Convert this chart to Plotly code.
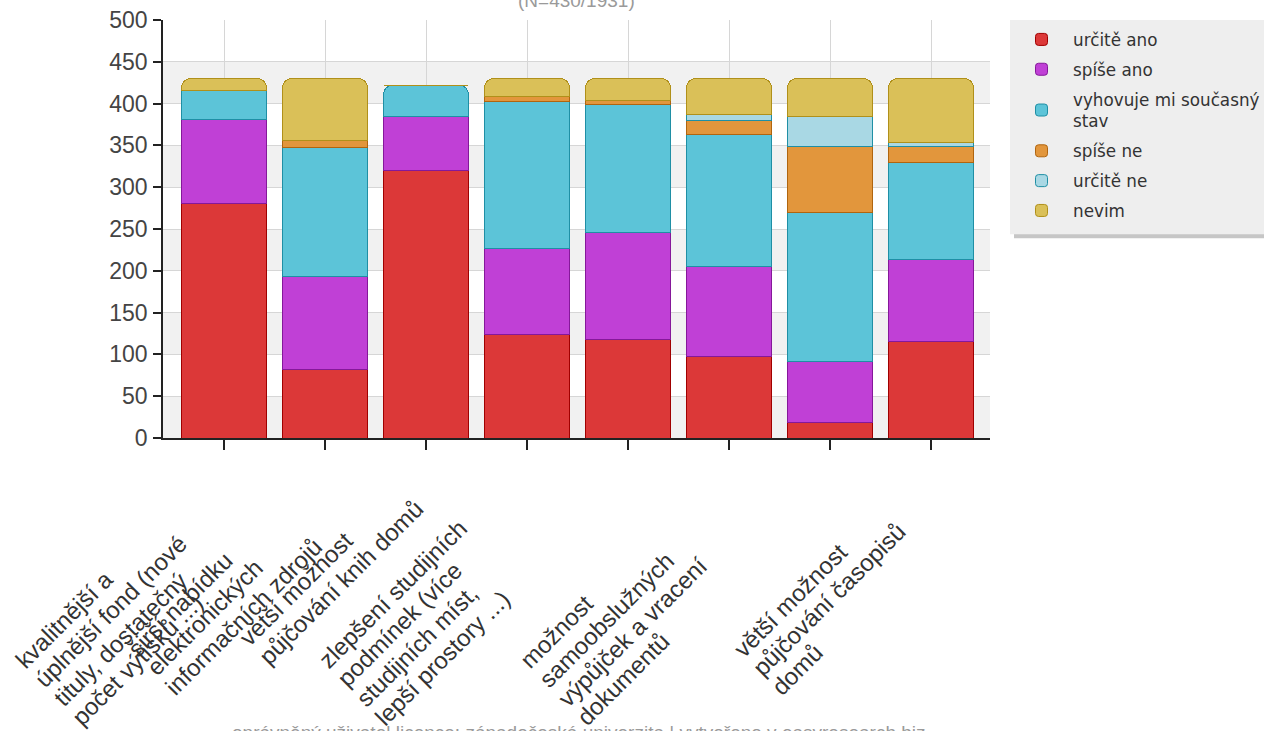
import math
import plotly.graph_objects as go

# ---------------- data ----------------
tick_lines = [
    ["kvalitnější a", "úplnější fond (nové", "tituly, dostatečný", "počet výtisků ...)"],
    ["širší nabídku", "elektronických", "informačních zdrojů"],
    ["větší možnost", "půjčování knih domů"],
    ["zlepšení studijních", "podmínek (více", "studijních míst,", "lepší prostory ...)"],
    [],
    ["možnost", "samoobslužných", "výpůjček a vracení", "dokumentů"],
    [],
    ["větší možnost", "půjčování časopisů", "domů"],
]
positions = list(range(len(tick_lines)))

series_names = ["určitě ano", "spíše ano", "vyhovuje mi současný<br>stav",
                "spíše ne", "určitě ne", "nevim"]
urcite_ano = [280, 82, 320, 124, 118, 97, 18, 116]
spise_ano = [101, 111, 65, 103, 128, 108, 74, 98]
vyhovuje = [35, 154, 37, 176, 153, 158, 178, 116]
spise_ne = [0, 9, 0, 5, 5, 17, 79, 19]
urcite_ne = [0, 0, 0, 0, 0, 7, 35, 4]
nevim = [14, 74, 0, 22, 26, 43, 46, 77]
series_values = [urcite_ano, spise_ano, vyhovuje, spise_ne, urcite_ne, nevim]

title_text = "(N=430/1931)"
footer_text = "oprávněný uživatel licence: západočeská univerzita | vytvořeno v easyresearch.biz"
y_ticks = [0, 50, 100, 150, 200, 250, 300, 350, 400, 450, 500]

# ---------------- style ----------------
fills = ["#dc3838", "#c040d6", "#5cc4d8", "#e2963c", "#a9d8e4", "#dac058"]
edges = ["#a00000", "#85189a", "#1f8fa5", "#b0650f", "#1f8fa5", "#b0901a"]

W, H = 1264, 731
L, R, T, B = 163, 990, 20, 437.7
xr = [-0.604, 7.584]

fig = go.Figure()
for name, vals, fc, ec in zip(series_names, series_values, fills, edges):
    fig.add_trace(go.Bar(
        x=positions, y=vals, name=name, legendgroup=name,
        marker=dict(color=fc, line=dict(color=ec, width=1)),
    ))

# alternating plot bands
shapes = []
for k in range(0, len(y_ticks) - 1, 2):
    shapes.append(dict(type="rect", xref="paper", yref="y", x0=0, x1=1,
                       y0=y_ticks[k], y1=y_ticks[k + 1], fillcolor="#f1f1f1",
                       line=dict(width=0), layer="below"))

def px_x(p):
    return (p - L) / (R - L)

def px_y(p):
    return (B - p) / (B - T)

# legend box + shadow
shapes.append(dict(type="rect", xref="paper", yref="paper",
                   x0=px_x(1014), x1=px_x(1275), y0=px_y(238), y1=px_y(26),
                   fillcolor="#c6c6c6", line=dict(width=0), layer="above"))
shapes.append(dict(type="rect", xref="paper", yref="paper",
                   x0=px_x(1010), x1=px_x(1275), y0=px_y(234), y1=px_y(20),
                   fillcolor="#eeeeee", line=dict(width=0), layer="above"))

annotations = []
annotations.append(dict(text=title_text, xref="paper", yref="paper", x=0.5, y=px_y(1),
                        xanchor="center", yanchor="middle", showarrow=False,
                        font=dict(family="Liberation Sans", size=19, color="#9a9a9a")))
annotations.append(dict(text=footer_text, xref="paper", yref="paper", x=px_x(579), y=px_y(732),
                        xanchor="center", yanchor="middle", showarrow=False,
                        font=dict(family="Liberation Sans", size=19, color="#9a9a9a")))

# rotated, left-aligned category labels
fs = 24
h = fs * 1.15
c = math.sqrt(0.5)
p0, lh = 15, 27
for i, lines in enumerate(tick_lines):
    n = len(lines)
    if n == 0:
        continue
    a = -242 - 16 * n
    for j, line in enumerate(lines):
        p = p0 + lh * j
        dx = (a + p) * c - 0.354 * h
        dy = (p - a) * c + 0.354 * h
        annotations.append(dict(text=line, xref="x", yref="paper", x=positions[i], y=0,
                                xanchor="left", yanchor="bottom", textangle=-45,
                                xshift=dx, yshift=-dy, showarrow=False, borderpad=0,
                                font=dict(family="Liberation Sans", size=fs, color="#333333")))

fig.update_layout(
    width=W, height=H,
    margin=dict(l=L, r=W - R, t=T, b=H - B, autoexpand=False),
    paper_bgcolor="white", plot_bgcolor="white",
    barmode="stack", bargap=0.16, barcornerradius=9,
    showlegend=True,
    legend=dict(x=px_x(1010), y=px_y(22), xanchor="left", yanchor="top",
                bgcolor="rgba(0,0,0,0)", borderwidth=0, traceorder="grouped",
                tracegroupgap=5, itemwidth=53,
                font=dict(family="DejaVu Sans", size=16.8, color="#333333")),
    xaxis=dict(range=xr, tickmode="array", tickvals=positions, showticklabels=False,
               showgrid=True, gridcolor="#d6d6d6", gridwidth=1, zeroline=False,
               showline=True, linecolor="#222222", linewidth=1.5,
               ticks="outside", ticklen=10, tickwidth=1.5, tickcolor="#222222"),
    yaxis=dict(range=[0, 500], tickmode="array", tickvals=y_ticks,
               showgrid=True, gridcolor="#d6d6d6", gridwidth=1, zeroline=False,
               showline=True, linecolor="#222222", linewidth=1.5,
               ticks="outside", ticklen=8, tickwidth=1.5, tickcolor="#222222",
               ticklabelstandoff=1,
               tickfont=dict(family="Liberation Sans", size=23, color="#444444")),
    shapes=shapes, annotations=annotations,
)

fig.write_html("out.html", config={"displayModeBar": False},
               post_script="document.body.style.margin='0px';")
